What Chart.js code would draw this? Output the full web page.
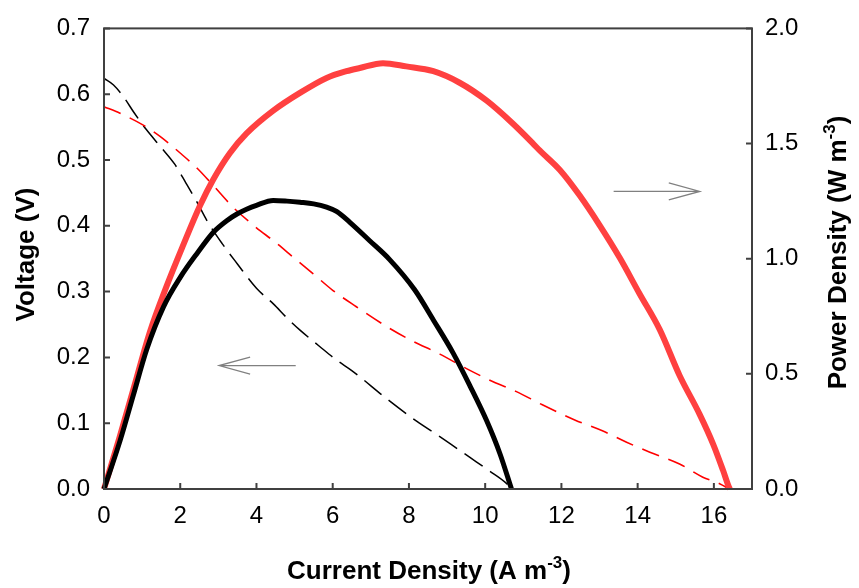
<!DOCTYPE html>
<html><head><meta charset="utf-8">
<script src="https://cdn.jsdelivr.net/npm/chart.js@4.4.0/dist/chart.umd.min.js"></script>
<style>html,body{margin:0;padding:0;background:#fff}canvas{display:block}</style>
</head><body>
<canvas id="c" width="859" height="588"></canvas>
<script>
// ---- data ----
const blackVoltCurrent = [0,0.25,0.5,0.8,1.1,1.5,1.85,2.15,2.45,2.7,3.1,3.5,4.0,4.45,4.8,5.15,5.65,6.1,6.5,7.4,8.2,8.8,9.6,10.1,10.55,10.69];
const blackVoltage     = [0.624,0.614,0.597,0.571,0.547,0.519,0.494,0.465,0.435,0.408,0.373,0.342,0.305,0.281,0.260,0.241,0.217,0.196,0.180,0.138,0.103,0.080,0.048,0.028,0.009,0.0];

const redVoltCurrent = [0,0.42,1.03,1.47,1.99,2.47,2.87,3.39,4.0,4.45,4.97,5.49,6.0,6.62,7.41,8.02,8.81,9.51,10.21,10.82,11.5,12.35,13.09,13.71,14.32,15.1,15.71,16.15,16.41];
const redVoltage     = [0.581,0.571,0.553,0.536,0.511,0.486,0.461,0.428,0.397,0.377,0.352,0.327,0.302,0.277,0.247,0.227,0.205,0.183,0.163,0.148,0.128,0.105,0.088,0.071,0.056,0.038,0.018,0.008,0.0];

const blackPowCurrent = [0,0.42,0.77,1.12,1.56,2.0,2.45,2.87,3.22,3.5,3.74,4.0,4.44,4.8,5.14,5.5,5.84,6.1,6.45,6.97,7.5,8.15,8.64,9.16,9.6,10.04,10.39,10.69];
const blackPower      = [0,0.209,0.408,0.606,0.791,0.919,1.025,1.115,1.165,1.195,1.215,1.232,1.253,1.25,1.245,1.238,1.224,1.205,1.158,1.078,0.995,0.865,0.734,0.590,0.448,0.296,0.152,0];

const redPowCurrent = [0,0.4,0.8,1.2,1.64,2.08,2.52,2.87,3.3,3.74,4.44,5.14,5.84,6.36,6.71,7.32,7.93,8.64,9.33,10.04,10.73,11.25,11.43,11.96,12.48,13.0,13.53,14.05,14.58,15.1,15.63,15.98,16.24,16.39,16.42];
const redPower      = [0,0.22,0.45,0.68,0.88,1.06,1.231,1.345,1.458,1.544,1.643,1.72,1.785,1.814,1.828,1.849,1.835,1.814,1.764,1.686,1.586,1.501,1.47,1.385,1.274,1.146,1.004,0.848,0.692,0.493,0.323,0.195,0.081,0.01,0];

const xTickValues = [0,2,4,6,8,10,12,14,16];
const voltTickValues = [0,0.1,0.2,0.3,0.4,0.5,0.6,0.7];
const powTickValues = [0,0.5,1.0,1.5,2.0];

// annotation arrows (data coordinates)
const leftArrow  = {axis:'y',  tipX:3.02,  tailX:5.03,  val:0.1876};
const rightArrow = {axis:'y1', tipX:15.63, tailX:13.37, val:1.292};

const pts = (xs, ys) => xs.map((x,i)=>({x, y: ys[i]}));

const FONT = '"Liberation Sans", Arial, sans-serif';
const AXIS_COLOR = '#404040';

const framePlugin = {
  id: 'frame',
  afterDraw(chart) {
    const ctx = chart.ctx, a = chart.chartArea;
    const sx = chart.scales.x, sy = chart.scales.y, sy1 = chart.scales.y1;
    ctx.save();
    ctx.strokeStyle = AXIS_COLOR; ctx.lineWidth = 2;
    ctx.strokeRect(a.left, a.top, a.right - a.left, a.bottom - a.top);
    const TL = 6;
    ctx.beginPath();
    sx.ticks.forEach(t => { const p = sx.getPixelForValue(t.value); ctx.moveTo(p, a.bottom); ctx.lineTo(p, a.bottom - TL); });
    sy.ticks.forEach(t => { const p = sy.getPixelForValue(t.value); ctx.moveTo(a.left, p); ctx.lineTo(a.left + TL, p); });
    sy1.ticks.forEach(t => { const p = sy1.getPixelForValue(t.value); ctx.moveTo(a.right, p); ctx.lineTo(a.right - TL, p); });
    ctx.stroke();

    ctx.strokeStyle = '#808080'; ctx.lineWidth = 1.3;
    [leftArrow, rightArrow].forEach(ar => {
      const ys = chart.scales[ar.axis];
      const y = ys.getPixelForValue(ar.val);
      const tip = sx.getPixelForValue(ar.tipX), tail = sx.getPixelForValue(ar.tailX);
      const dir = tail > tip ? 1 : -1;
      ctx.beginPath();
      ctx.moveTo(tail, y); ctx.lineTo(tip, y);
      ctx.moveTo(tip + dir*31, y - 8.5); ctx.lineTo(tip, y); ctx.lineTo(tip + dir*31, y + 8.5);
      ctx.stroke();
    });

    ctx.fillStyle = '#000';
    const drawRich = (parts, x, y, rot) => {
      ctx.save();
      ctx.translate(x, y); ctx.rotate(rot);
      ctx.textBaseline = 'alphabetic'; ctx.textAlign = 'left';
      let total = 0;
      const f = p => (p.sup ? 'bold 17px ' : 'bold 26px ') + FONT;
      parts.forEach(p => { ctx.font = f(p); p.w = ctx.measureText(p.t).width; total += p.w; });
      let cx = -total/2;
      parts.forEach(p => { ctx.font = f(p); ctx.fillText(p.t, cx, p.sup ? -11 : 0); cx += p.w; });
      ctx.restore();
    };
    drawRich([{t:'Voltage (V)'}], 34, 254.5, -Math.PI/2);
    drawRich([{t:'Power Density (W m'},{t:'-3',sup:true},{t:')'}], 846, 252.5, -Math.PI/2);
    drawRich([{t:'Current Density (A m'},{t:'-3',sup:true},{t:')'}], 429, 579, 0);
    ctx.restore();
  }
};

const tickFont = {family: FONT, size: 24};

new Chart(document.getElementById('c'), {
  type: 'scatter',
  data: {
    datasets: [
      {label:'P black', data: pts(blackPowCurrent, blackPower), yAxisID:'y1', showLine:true, borderColor:'#000', borderWidth:5, pointRadius:0, cubicInterpolationMode:'monotone', clip:10},
      {label:'P red', data: pts(redPowCurrent, redPower), yAxisID:'y1', showLine:true, borderColor:'rgb(255,64,64)', borderWidth:6, pointRadius:0, cubicInterpolationMode:'monotone', clip:10},
      {label:'V red', data: pts(redVoltCurrent, redVoltage), yAxisID:'y', showLine:true, borderColor:'#ff0000', borderWidth:1.6, borderDash:[18,10], pointRadius:0, cubicInterpolationMode:'monotone', clip:10},
      {label:'V black', data: pts(blackVoltCurrent, blackVoltage), yAxisID:'y', showLine:true, borderColor:'#000', borderWidth:1.5, borderDash:[22,9], pointRadius:0, cubicInterpolationMode:'monotone', clip:10}
    ]
  },
  options: {
    responsive:false, animation:false, devicePixelRatio:1,
    layout:{padding:{top:20,left:0,right:0,bottom:0}},
    plugins:{legend:{display:false}, tooltip:{enabled:false}},
    scales:{
      x:{type:'linear', position:'bottom', min:0, max:17,
         afterBuildTicks: s => { s.ticks = xTickValues.map(v=>({value:v})); },
         afterFit: s => { s.height = 99; },
         grid:{display:false, drawTicks:false}, border:{display:false},
         ticks:{font:tickFont, color:'#000', padding:13, maxRotation:0, autoSkip:false, callback: v => String(v)}},
      y:{type:'linear', position:'left', min:0, max:0.7,
         afterBuildTicks: s => { s.ticks = voltTickValues.map(v=>({value:v})); },
         afterFit: s => { s.width = 104; },
         grid:{display:false, drawTicks:false}, border:{display:false},
         ticks:{font:tickFont, color:'#000', padding:14, autoSkip:false, callback: v => Number(v).toFixed(1)}},
      y1:{type:'linear', position:'right', min:0, max:2.0,
         afterBuildTicks: s => { s.ticks = powTickValues.map(v=>({value:v})); },
         afterFit: s => { s.width = 107; },
         grid:{display:false, drawTicks:false}, border:{display:false},
         ticks:{font:tickFont, color:'#000', padding:13, autoSkip:false, callback: v => Number(v).toFixed(1)}}
    }
  },
  plugins:[framePlugin]
});
</script>
</body></html>
